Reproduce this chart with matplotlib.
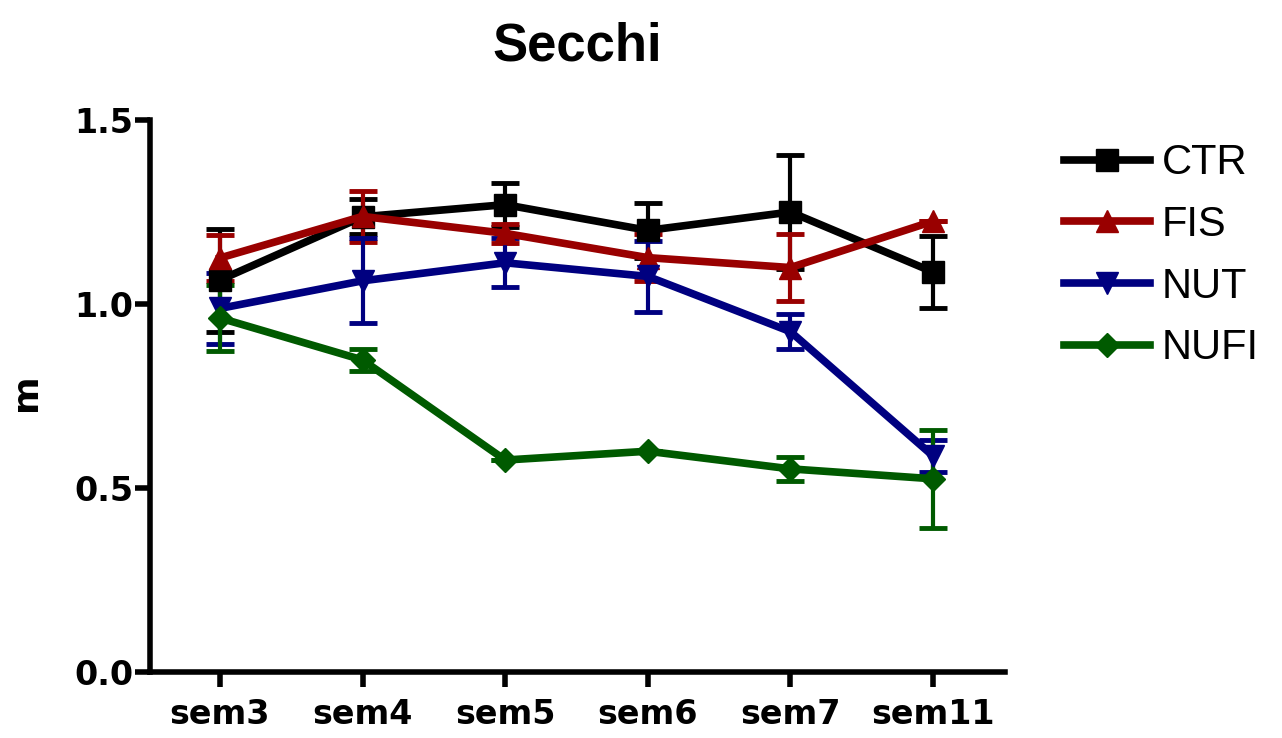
import matplotlib
matplotlib.use("Agg")
import matplotlib.pyplot as plt
from matplotlib.lines import Line2D
import numpy as np

# Secchi depth per week, four treatments (mean +/- error)
semanas = ["sem3", "sem4", "sem5", "sem6", "sem7", "sem11"]
grupos = ["CTR", "FIS", "NUT", "NUFI"]

ctr = [1.065, 1.237, 1.270, 1.200, 1.250, 1.087]
ctr_err = [0.140, 0.047, 0.060, 0.074, 0.155, 0.097]

fis = [1.125, 1.238, 1.192, 1.126, 1.099, 1.225]
fis_err = [0.063, 0.070, 0.025, 0.064, 0.091, 0.0]

nut = [0.988, 1.063, 1.112, 1.075, 0.925, 0.587]
nut_err = [0.097, 0.115, 0.066, 0.096, 0.048, 0.043]

nufi = [0.962, 0.848, 0.576, 0.600, 0.552, 0.525]
nufi_err = [0.090, 0.030, 0.0, 0.0, 0.032, 0.133]

cores = ["#000000", "#990000", "#000080", "#005A00"]
marcadores = ["s", "^", "v", "D"]
tamanhos = [16, 16, 16, 12]

plt.rcParams["font.family"] = ["Liberation Sans", "DejaVu Sans"]

fig = plt.figure(figsize=(12.82, 7.38), dpi=100)
ax = fig.add_axes([0.117, 0.0894, 0.667, 0.748])

x = np.arange(len(semanas))
series = [(ctr, ctr_err), (fis, fis_err), (nut, nut_err), (nufi, nufi_err)]
handles = []
for (vals, errs), nome, cor, mk, ms in zip(series, grupos, cores, marcadores, tamanhos):
    ax.errorbar(x, vals, yerr=errs, color=cor, marker=mk, markersize=ms,
                linewidth=5.5, elinewidth=3, capsize=10, capthick=3.5)
    handles.append(Line2D([], [], color=cor, marker=mk, markersize=ms,
                          linewidth=5.5, label=nome))

ax.set_xlim(-0.49, 5.505)
ax.set_ylim(0, 1.5)
ax.set_yticks([0.0, 0.5, 1.0, 1.5])
ax.set_yticklabels(["0.0", "0.5", "1.0", "1.5"])
ax.set_xticks(x)
ax.set_xticklabels(semanas)

for s in ["top", "right"]:
    ax.spines[s].set_visible(False)
for s in ["left", "bottom"]:
    ax.spines[s].set_linewidth(4)

ax.tick_params(axis="both", direction="out", length=11, width=4)
ax.tick_params(axis="y", pad=1)
ax.tick_params(axis="x", pad=8)
for lbl in ax.get_xticklabels() + ax.get_yticklabels():
    lbl.set_fontfamily("DejaVu Sans")
    lbl.set_fontweight("bold")
    lbl.set_fontsize(24)

ax.set_ylabel("m", fontsize=26, fontweight="bold", family="DejaVu Sans")
ax.yaxis.set_label_coords(-0.125, 0.507)
ax.set_title("Secchi", fontsize=38, fontweight="bold", pad=43)

ax.legend(handles=handles, loc="upper left", bbox_to_anchor=(1.069, 0.958),
          frameon=False, fontsize=30, handlelength=2.06, handletextpad=0.29,
          labelspacing=0.52, borderaxespad=0, borderpad=0)

fig.savefig("out.png", dpi=100)
